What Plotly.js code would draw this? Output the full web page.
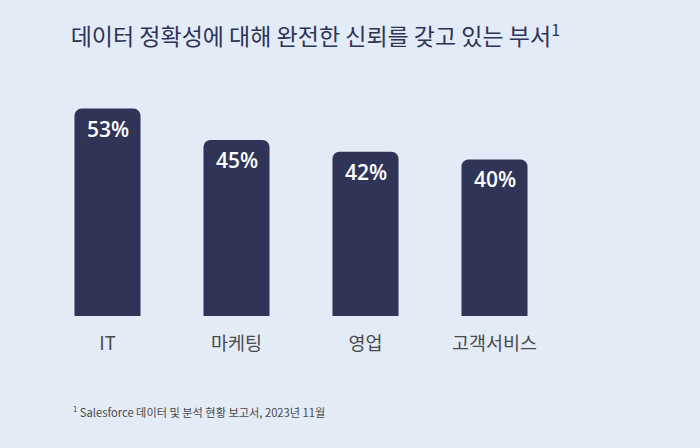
<!DOCTYPE html>
<html>
<head>
<meta charset="utf-8">
<script src="https://cdn.plot.ly/plotly-3.0.1.min.js"></script>
<style>html,body{margin:0;padding:0;background:#e2ebf6;}#chart{width:700px;height:448px;}</style>
</head>
<body>
<div id="chart"></div>
<script>
const categories = ["IT", "마케팅", "영업", "고객서비스"];
const values = [53, 45, 42, 40];
const valueLabels = ["53%", "45%", "42%", "40%"];
const titleText = "데이터 정확성에 대해 완전한 신뢰를 갖고 있는 부서<sup>1</sup>";
const footnoteText = "<sup>1</sup> Salesforce 데이터 및 분석 현황 보고서, 2023년 11월";

const bg = "#e2ebf6";
const barColor = "#303558";
const cjk = "'Noto Sans CJK KR', 'Noto Sans', sans-serif";

const bars = {
  type: "bar", x: categories, y: values,
  marker: {color: barColor, line: {width: 0}},
  hoverinfo: "skip", showlegend: false
};

const annotations = categories.map((c, i) => ({
  x: c, y: values[i], xref: "x", yref: "y",
  text: valueLabels[i], showarrow: false,
  yanchor: "top", yshift: -4,
  font: {family: "'Open Sans', sans-serif", size: 21, weight: 600, color: "#ffffff"}
}));
annotations.push({
  xref: "paper", yref: "paper", x: 0.055, y: -0.44,
  xanchor: "left", yanchor: "middle", showarrow: false,
  text: footnoteText,
  font: {family: cjk, size: 11.2, color: "#4a4a4a"}
});

const layout = {
  width: 700, height: 448,
  paper_bgcolor: bg, plot_bgcolor: bg,
  margin: {l: 43, r: 141, t: 100, b: 132},
  bargap: 0.488,
  barcornerradius: 7,
  title: {
    text: titleText, xref: "container", yref: "container",
    x: 0.101, xanchor: "left", y: 0.917, yanchor: "middle",
    font: {family: cjk, size: 23, color: "#2e3358"}
  },
  xaxis: {
    type: "category", range: [-0.5, 3.5],
    showgrid: false, zeroline: false, showline: false, ticks: "",
    ticklabelstandoff: 14,
    tickfont: {family: cjk, size: 18.5, color: "#4a4a4a"},
    fixedrange: true
  },
  yaxis: {
    range: [0, 55.2], showgrid: false, zeroline: false, showline: false,
    showticklabels: false, ticks: "", fixedrange: true
  },
  annotations: annotations
};

Plotly.newPlot("chart", [bars], layout, {displayModeBar: false, staticPlot: true});
</script>
</body>
</html>
